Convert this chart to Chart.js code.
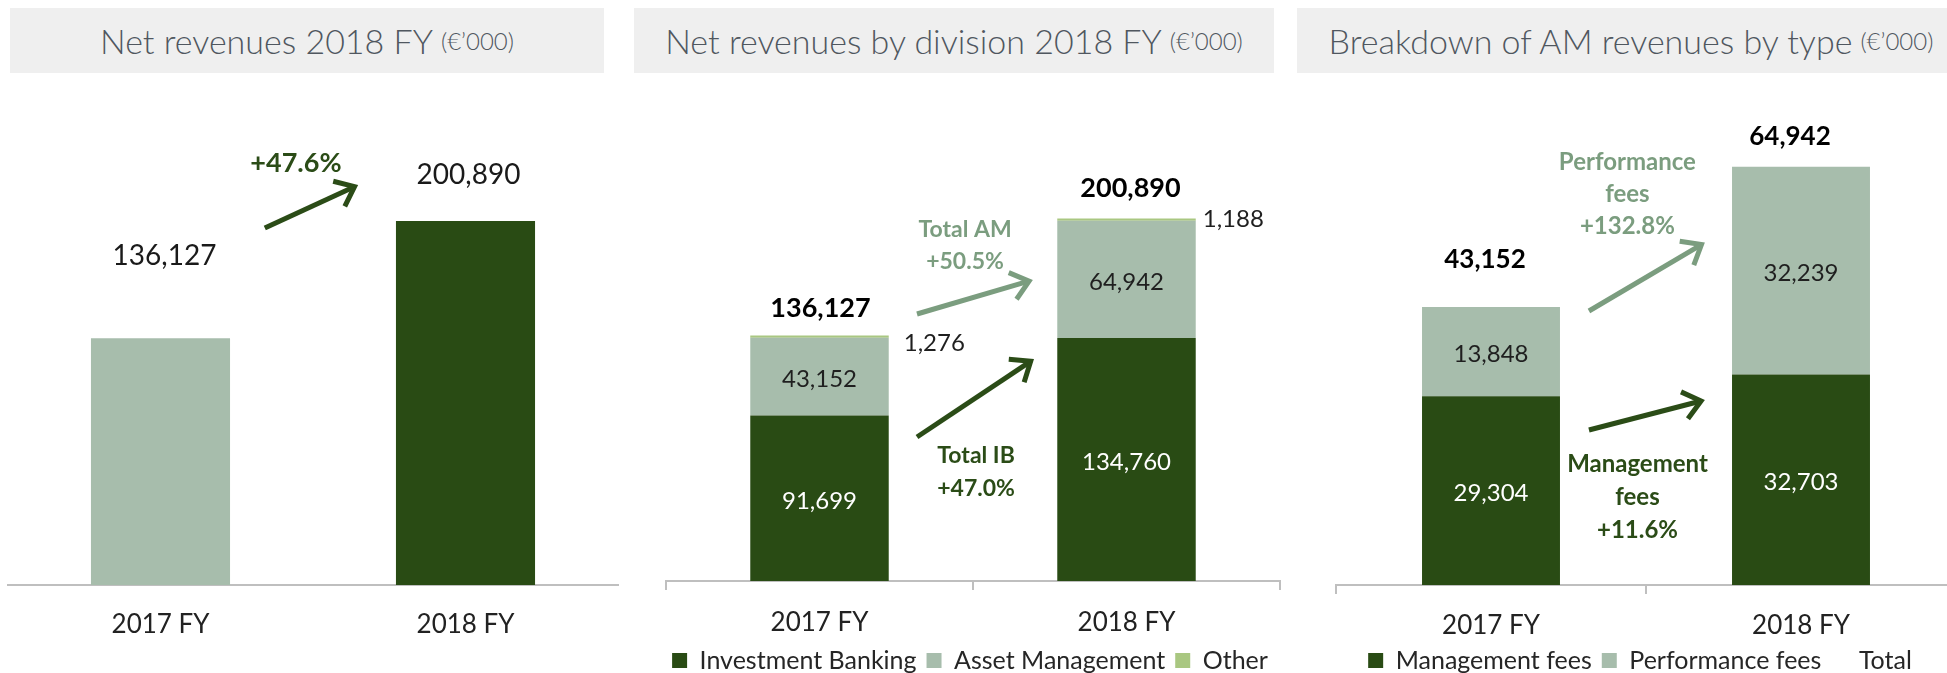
<!DOCTYPE html>
<html>
<head>
<meta charset="utf-8">
<script src="https://cdn.jsdelivr.net/npm/chart.js@4.4.0/dist/chart.umd.min.js"></script>
<style>
  html, body { margin: 0; padding: 0; width: 1947px; height: 673px; overflow: hidden; background: #fff; }
  body { position: relative; font-family: Lato, "Open Sans", sans-serif; }
  .head {
    position: absolute; top: 8px; height: 65px; background: #efefef; color: #50575f;
    font-weight: 300; font-size: 34px; display: flex; align-items: center; justify-content: center;
    white-space: nowrap;
  }
  .head small { font-size: 24px; margin-left: 8px; }
  .panel { position: absolute; top: 90px; }
</style>
</head>
<body>
<div class="head" style="left:10px;width:594px">Net revenues 2018 FY<small>(€’000)</small></div>
<div class="head" style="left:634px;width:640px">Net revenues by division 2018 FY<small>(€’000)</small></div>
<div class="head" style="left:1297px;width:668px">Breakdown of AM revenues by type<small>(€’000)</small></div>

<div class="panel" style="left:0;width:630px;height:583px"><canvas id="net-chart"></canvas></div>
<div class="panel" style="left:640px;width:660px;height:593px"><canvas id="division-chart"></canvas></div>
<div class="panel" style="left:1296px;width:688px;height:593px"><canvas id="fees-chart"></canvas></div>

<script>
const YEARS = ["2017 FY", "2018 FY"];
const NET_REVENUES = [136127, 200890];
const IB_REVENUES = [91699, 134760];
const AM_REVENUES = [43152, 64942];
const OTHER_REVENUES = [1276, 1188];
const MGMT_FEES = [29304, 32703];
const PERF_FEES = [13848, 32239];
const AM_TOTALS = [43152, 64942];

const DIVISION_NAMES = ["Investment Banking", "Asset Management", "Other"];
const FEE_NAMES = ["Management fees", "Performance fees", "Total"];

const NET_GROWTH = ["+47.6%"];
const AM_GROWTH = ["Total AM", "+50.5%"];
const IB_GROWTH = ["Total IB", "+47.0%"];
const PERF_GROWTH = ["Performance", "fees", "+132.8%"];
const MGMT_GROWTH = ["Management", "fees", "+11.6%"];

const FONT = "Lato, 'Open Sans', sans-serif";
const DARK = "#294b14";
const SAGE = "#a7bdac";
const LIME = "#a9c781";
const SAGE_TEXT = "#7b9d7f";
const DARK_TEXT = "#2b4c17";
const AXIS = "#bfbfbf";

const fmt = v => v.toLocaleString("en-US");
const font = (size, weight) => `${weight || "normal"} ${size}px ${FONT}`;

function drawText(ctx, t, x, y, f, color, align) {
  ctx.font = f;
  ctx.fillStyle = color;
  ctx.textAlign = align || "center";
  ctx.textBaseline = "middle";
  ctx.fillText(t, x, y);
}

function drawArrow(ctx, a, b, color, w) {
  const ang = Math.atan2(b[1] - a[1], b[0] - a[0]);
  const head = 22, spread = 0.68;
  const back = w / (2 * Math.sin(spread));
  const tx = b[0] - Math.cos(ang) * back, ty = b[1] - Math.sin(ang) * back;
  ctx.strokeStyle = color;
  ctx.lineWidth = w;
  ctx.lineCap = "butt";
  ctx.lineJoin = "miter";
  ctx.beginPath();
  ctx.moveTo(a[0], a[1]);
  ctx.lineTo(tx - Math.cos(ang) * 2, ty - Math.sin(ang) * 2);
  ctx.stroke();
  ctx.beginPath();
  ctx.moveTo(tx - head * Math.cos(ang - spread), ty - head * Math.sin(ang - spread));
  ctx.lineTo(tx, ty);
  ctx.lineTo(tx - head * Math.cos(ang + spread), ty - head * Math.sin(ang + spread));
  ctx.stroke();
}

// labels, growth notes and arrows drawn on top of the bars
function overlay(cfg) {
  return {
    id: "overlay",
    afterDatasetsDraw(chart) {
      const { ctx } = chart;
      const xs = chart.scales.x, ys = chart.scales.y;
      const px = (i, v) => [xs.getPixelForValue(i), ys.getPixelForValue(v)];
      ctx.save();
      (cfg.labels || []).forEach(l => {
        chart.getDatasetMeta(l.ds).data.forEach((el, j) => {
          const p = el.getProps(["x", "y", "base", "width"], true);
          let tx = p.x, ty = (p.y + p.base) / 2, align = "center";
          if (l.at === "top") ty = p.y;
          if (l.at === "right") { tx = p.x + p.width / 2; align = "left"; }
          const off = l.offsets ? l.offsets[j] : [0, 3];
          drawText(ctx, fmt(l.values[j]), tx + off[0], ty + off[1], l.font, l.color, align);
        });
      });
      (cfg.arrows || []).forEach(a => drawArrow(ctx, px(...a.from), px(...a.to), a.color, a.width));
      (cfg.notes || []).forEach(n => {
        const [nx, ny] = px(...n.at);
        n.lines.forEach((t, k) => drawText(ctx, t, nx, ny + k * n.gap, n.font, n.color));
      });
      ctx.restore();
    },
  };
}

function xAxis(height, pad, marks) {
  return {
    stacked: true,
    grid: { display: marks, drawOnChartArea: false, drawTicks: marks, tickLength: 9, color: AXIS, lineWidth: 2 },
    border: { display: true, color: AXIS, width: 2 },
    ticks: { color: "#222", font: { family: FONT, size: 26 }, padding: pad, maxRotation: 0, autoSkip: false },
    afterFit: s => { s.height = height; },
  };
}

function yAxis(width, max, position) {
  return {
    display: true, position, stacked: true, min: 0, max,
    ticks: { display: false }, grid: { display: false }, border: { display: false },
    afterFit: s => { s.width = width; },
  };
}

function legend() {
  return {
    display: true,
    position: "bottom",
    labels: { color: "#262626", font: { family: FONT, size: 25 }, boxWidth: 15, boxHeight: 15, padding: 10 },
  };
}

const base = {
  responsive: true,
  maintainAspectRatio: false,
  animation: false,
  events: [],
};

// Panel 1: net revenues
new Chart(document.getElementById("net-chart"), {
  type: "bar",
  data: {
    labels: YEARS,
    datasets: [{
      label: "Net revenues",
      data: NET_REVENUES,
      backgroundColor: [SAGE, DARK],
      borderWidth: 0,
      categoryPercentage: 1,
      barPercentage: 0.456,
    }],
  },
  options: {
    ...base,
    layout: { padding: { top: 42, left: 8, right: 12, bottom: 0 } },
    plugins: { legend: { display: false }, tooltip: { enabled: false } },
    scales: {
      x: xAxis(88, 24, false),
      y: { display: false, stacked: true, min: 0, max: 250000 },
    },
  },
  plugins: [overlay({
    labels: [{ ds: 0, at: "top", values: NET_REVENUES, font: font(28), color: "#1a1a1a", offsets: [[4, -82], [3, -46]] }],
    notes: [{ at: [0.444, 232900], lines: NET_GROWTH, gap: 0, font: font(27, "bold"), color: DARK_TEXT }],
    arrows: [{ from: [0.342, 197000], to: [0.648, 220750], color: DARK_TEXT, width: 5 }],
  })],
});

// Panel 2: net revenues by division
new Chart(document.getElementById("division-chart"), {
  type: "bar",
  data: {
    labels: YEARS,
    datasets: [
      { label: DIVISION_NAMES[0], data: IB_REVENUES, backgroundColor: DARK },
      { label: DIVISION_NAMES[1], data: AM_REVENUES, backgroundColor: SAGE },
      { label: DIVISION_NAMES[2], data: OTHER_REVENUES, backgroundColor: LIME },
    ].map(d => ({ ...d, borderWidth: 0, categoryPercentage: 1, barPercentage: 0.451 })),
  },
  options: {
    ...base,
    layout: { padding: { top: 40, left: 0, right: 0, bottom: 0 } },
    plugins: { legend: legend(), tooltip: { enabled: false } },
    scales: {
      x: xAxis(57, 17, true),
      y: yAxis(26, 250000, "left"),
      yr: yAxis(20, 1, "right"),
    },
  },
  plugins: [overlay({
    labels: [
      { ds: 0, at: "center", values: IB_REVENUES, font: font(24), color: "#ffffff" },
      { ds: 1, at: "center", values: AM_REVENUES, font: font(24), color: "#1f1f1f" },
      { ds: 2, at: "right", values: OTHER_REVENUES, font: font(24), color: "#1f1f1f", offsets: [[15, 7], [7, 0]] },
      { ds: 2, at: "top", values: NET_REVENUES, font: font(27, "bold"), color: "#000000", offsets: [[1, -27], [4, -30]] },
    ],
    notes: [
      { at: [0.474, 194570], lines: AM_GROWTH, gap: 32, font: font(23, "bold"), color: SAGE_TEXT },
      { at: [0.51, 69290], lines: IB_GROWTH, gap: 33, font: font(23, "bold"), color: DARK_TEXT },
    ],
    arrows: [
      { from: [0.3176, 148000], to: [0.695, 166850], color: SAGE_TEXT, width: 5 },
      { from: [0.3176, 79800], to: [0.6987, 123060], color: DARK_TEXT, width: 5 },
    ],
  })],
});

// Panel 3: AM revenues by type
new Chart(document.getElementById("fees-chart"), {
  type: "bar",
  data: {
    labels: YEARS,
    datasets: [
      { label: FEE_NAMES[0], data: MGMT_FEES, backgroundColor: DARK, borderWidth: 0, categoryPercentage: 1, barPercentage: 0.445 },
      { label: FEE_NAMES[1], data: PERF_FEES, backgroundColor: SAGE, borderWidth: 0, categoryPercentage: 1, barPercentage: 0.445 },
      {
        type: "line", label: FEE_NAMES[2], data: AM_TOTALS, stack: "total",
        showLine: false, pointRadius: 0, borderWidth: 0,
        backgroundColor: "rgba(0,0,0,0)", borderColor: "rgba(0,0,0,0)",
      },
    ],
  },
  options: {
    ...base,
    layout: { padding: { top: 12, left: 0, right: 0, bottom: 0 } },
    plugins: { legend: legend(), tooltip: { enabled: false } },
    scales: {
      x: xAxis(53, 16, true),
      y: yAxis(40, 75000, "left"),
      yr: yAxis(28, 1, "right"),
    },
  },
  plugins: [overlay({
    labels: [
      { ds: 0, at: "center", values: MGMT_FEES, font: font(24), color: "#ffffff" },
      { ds: 1, at: "center", values: PERF_FEES, font: font(24), color: "#1f1f1f" },
      { ds: 2, at: "top", values: AM_TOTALS, font: font(26, "bold"), color: "#000000", offsets: [[-6, -47], [-11, -30]] },
    ],
    notes: [
      { at: [0.44, 65683], lines: PERF_GROWTH, gap: 32, font: font(24, "bold"), color: SAGE_TEXT },
      { at: [0.4726, 18789], lines: MGMT_GROWTH, gap: 33, font: font(24, "bold"), color: DARK_TEXT },
    ],
    arrows: [
      { from: [0.316, 42547], to: [0.69, 53183], color: SAGE_TEXT, width: 5 },
      { from: [0.316, 24068], to: [0.69, 28727], color: DARK_TEXT, width: 5 },
    ],
  })],
});
</script>
</body>
</html>
